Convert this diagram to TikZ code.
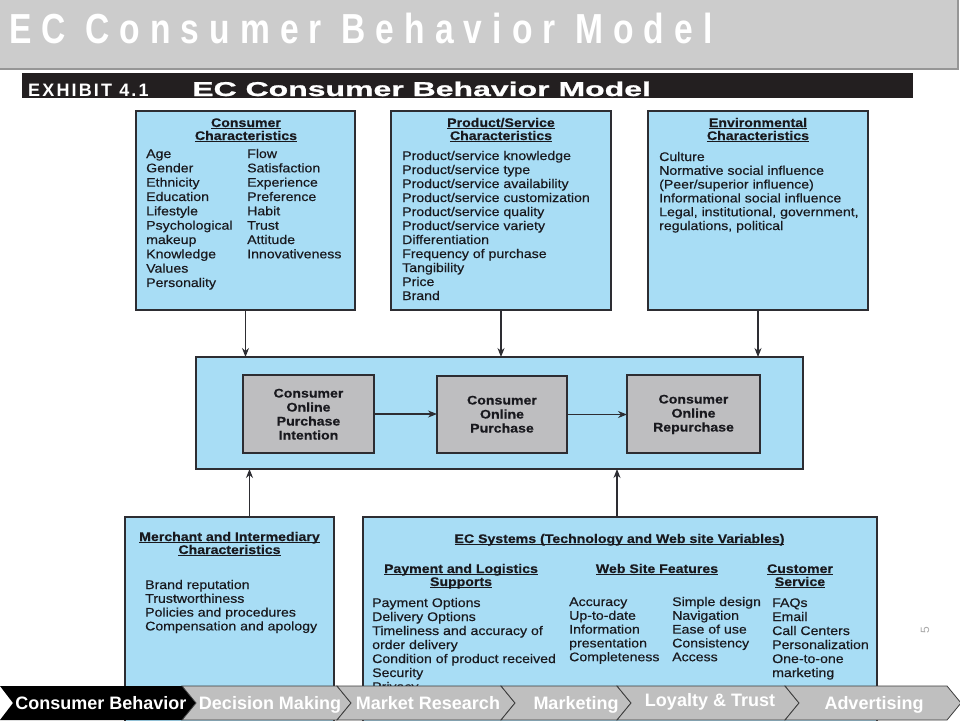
\documentclass[tikz,border=0pt]{standalone}
\usepackage{fontspec}
\setmainfont{Liberation Sans}
\newfontfamily\boxfont[FakeStretch=1.13,FakeBold=0.4]{Liberation Sans}
\newfontfamily\titlefont[FakeStretch=0.8,LetterSpace=24]{Liberation Sans Bold}
\newfontfamily\exhfont[FakeStretch=1.0,LetterSpace=12]{Liberation Sans Bold}
\newfontfamily\exhtitlefont[FakeStretch=1.6,FakeBold=1]{Liberation Sans Bold}
\newfontfamily\navfont{Liberation Sans Bold}
\usetikzlibrary{arrows.meta}
\newsavebox\hdbox
\newcommand\hdul[1]{\sbox\hdbox{#1}\rlap{\rule[-2pt]{\wd\hdbox}{0.8pt}}\usebox\hdbox}
\definecolor{boxblue}{RGB}{168,221,245}
\definecolor{boxgray}{RGB}{190,190,192}
\definecolor{edge}{RGB}{45,45,50}
\definecolor{ink}{RGB}{25,25,30}
\definecolor{titlegray}{RGB}{204,204,204}
\definecolor{titleedge}{RGB}{150,150,150}
\definecolor{exhblack}{RGB}{35,31,32}
\definecolor{navgray}{RGB}{191,191,191}
\definecolor{navedge}{RGB}{60,60,60}
\definecolor{pagegray}{RGB}{170,170,170}
\tikzset{
 bluebox/.style={draw=edge, line width=1.3pt, fill=boxblue, inner sep=0, outer sep=0, anchor=north west},
 graybox/.style={draw=edge, line width=1.2pt, fill=boxgray, inner sep=0, outer sep=0, anchor=north west},
 item/.style={inner sep=0, anchor=base west, text=ink, font=\boxfont\fontsize{12.5}{14}\selectfont},
 head/.style={inner sep=0, anchor=base, text=ink, font=\boxfont\bfseries\fontsize{12.5}{14}\selectfont},
 flow/.style={-{Stealth[length=9pt,width=7pt]}, line width=1.1pt, draw=edge},
 navtext/.style={inner sep=0, anchor=base, text=white, font=\navfont\fontsize{18}{18}\selectfont},
 chev/.style={fill=navgray, draw=navedge, line width=0.8pt},
}
\begin{document}
\begin{tikzpicture}[x=1pt,y=-1pt]
\useasboundingbox (0,0) rectangle (960,720);
\fill[white] (0,0) rectangle (960,720);
% title bar
\fill[titlegray] (0,0) rectangle (958,69);
\draw[titleedge, line width=2pt] (0,69) -- (958,69) -- (958,0);
\node[inner sep=0, anchor=base west, text=white, font=\titlefont\fontsize{42}{42}\selectfont] (title) at (9,43) {EC Consumer Behavior Model};
% exhibit bar
\fill[exhblack] (22,73) rectangle (913,98);
\node[inner sep=0, anchor=base west, text=white, font=\exhfont\fontsize{18}{18}\selectfont] (exh) at (28,96) {EXHIBIT 4.1};
\node[inner sep=0, anchor=base west, text=white, font=\exhtitlefont\fontsize{20}{20}\selectfont] (exhtitle) at (192,96) {EC Consumer Behavior Model};
% boxes
\node[bluebox, minimum width=219, minimum height=199] (cc) at (136,111) {};
\node[bluebox, minimum width=220, minimum height=199] (ps) at (391,111) {};
\node[bluebox, minimum width=220, minimum height=199] (env) at (648,111) {};
\node[bluebox, minimum width=607, minimum height=112] (mid) at (196,357) {};
\node[graybox, minimum width=131, minimum height=78] (pa) at (243,375) {};
\node[graybox, minimum width=130, minimum height=77] (pb) at (437,376) {};
\node[graybox, minimum width=133, minimum height=78] (pc) at (627,375) {};
\node[bluebox, minimum width=209, minimum height=213] (mer) at (125,517) {};
\node[bluebox, minimum width=514, minimum height=213] (ecs) at (363,517) {};
% arrows
\draw[flow] (cc.south) -- (cc.south |- mid.north);
\draw[flow] (ps.south) -- (ps.south |- mid.north);
\draw[flow] (env.south) -- (env.south |- mid.north);
\draw[flow] ([xshift=20pt]mer.north) -- ([xshift=20pt]mer.north |- mid.south);
\draw[flow] ([xshift=-3pt]ecs.north) -- ([xshift=-3pt]ecs.north |- mid.south);
\draw[flow] (pa.east) -- (pa.east -| pb.west);
\draw[flow] (pb.east) -- (pb.east -| pc.west);
% consumer characteristics
\node[head] (cch1) at (246,127) {\hdul{Consumer}};
\node[head] (cch2) at (246,140) {\hdul{Characteristics}};
\foreach \t [count=\i from 0] in {Age,Gender,Ethnicity,Education,Lifestyle,Psychological,makeup,Knowledge,Values,Personality}
  \node[item] (cca\i) at (146,{158+14.33*\i}) {\t};
\foreach \t [count=\i from 0] in {Flow,Satisfaction,Experience,Preference,Habit,Trust,Attitude,Innovativeness}
  \node[item] (ccb\i) at (247,{158+14.33*\i}) {\t};
% product/service
\node[head] (psh1) at (501,127) {\hdul{Product/Service}};
\node[head] (psh2) at (501,140) {\hdul{Characteristics}};
\foreach \t [count=\i from 0] in {Product/service knowledge,Product/service type,Product/service availability,Product/service customization,Product/service quality,Product/service variety,Differentiation,Frequency of purchase,Tangibility,Price,Brand}
  \node[item] (psa\i) at (402,{160+14*\i}) {\t};
% environmental
\node[head] (envh1) at (758,127) {\hdul{Environmental}};
\node[head] (envh2) at (758,140) {\hdul{Characteristics}};
\foreach \t [count=\i from 0] in {Culture,Normative social influence,(Peer/superior influence),Informational social influence,{Legal, institutional, government,},{regulations, political}}
  \node[item] (enva\i) at (659,{161+13.8*\i}) {\t};
% inner boxes
\foreach \t [count=\i from 0] in {Consumer,Online,Purchase,Intention}
  \node[head] (pat\i) at ([yshift={16.5-14*\i}]pa.center) {\t};
\foreach \t [count=\i from 0] in {Consumer,Online,Purchase}
  \node[head] (pbt\i) at ([yshift={10-14*\i}]pb.center) {\t};
\foreach \t [count=\i from 0] in {Consumer,Online,Repurchase}
  \node[head] (pct\i) at ([yshift={10.5-14*\i}]pc.center) {\t};
% merchant
\node[head] (merh1) at (229.5,541) {\hdul{Merchant and Intermediary}};
\node[head] (merh2) at (229.5,554) {\hdul{Characteristics}};
\foreach \t [count=\i from 0] in {Brand reputation,Trustworthiness,Policies and procedures,Compensation and apology}
  \node[item] (mera\i) at (145,{589+13.8*\i}) {\t};
% EC systems
\node[head] (ecsh) at (619.5,543) {\hdul{EC Systems (Technology and Web site Variables)}};
\node[head] (payh1) at (461,573) {\hdul{Payment and Logistics}};
\node[head] (payh2) at (461,586) {\hdul{Supports}};
\foreach \t [count=\i from 0] in {Payment Options,Delivery Options,Timeliness and accuracy of,order delivery,Condition of product received,Security,Privacy}
  \node[item] (paya\i) at (372,{607+14*\i}) {\t};
\node[head] (webh) at (657,573) {\hdul{Web Site Features}};
\foreach \t [count=\i from 0] in {Accuracy,Up-to-date,Information,presentation,Completeness}
  \node[item] (weba\i) at (569,{606+13.8*\i}) {\t};
\foreach \t [count=\i from 0] in {Simple design,Navigation,Ease of use,Consistency,Access}
  \node[item] (webb\i) at (672,{606+13.8*\i}) {\t};
\node[head] (custh1) at (800,573) {\hdul{Customer}};
\node[head] (custh2) at (800,586) {\hdul{Service}};
\foreach \t [count=\i from 0] in {FAQs,Email,Call Centers,Personalization,One-to-one,marketing}
  \node[item] (custa\i) at (772,{607+14*\i}) {\t};
% page number
\node[inner sep=0, rotate=90, text=pagegray, font=\fontsize{12}{12}\selectfont] (pg) at (925,630) {5};
% navigation bar
\fill[black] (0,686) -- (182,686) -- (196,703) -- (182,720) -- (0,720) -- (13,703) -- cycle;
\path[chev] (182,686) -- (337,686) -- (351,703) -- (337,720) -- (182,720) -- (196,703) -- cycle;
\path[chev] (337,686) -- (501,686) -- (515,703) -- (501,720) -- (337,720) -- (351,703) -- cycle;
\path[chev] (501,686) -- (617,686) -- (631,703) -- (617,720) -- (501,720) -- (515,703) -- cycle;
\path[chev] (617,686) -- (785,686) -- (799,703) -- (785,720) -- (617,720) -- (631,703) -- cycle;
\path[chev] (785,686) -- (947,686) -- (961,703) -- (947,720) -- (785,720) -- (799,703) -- cycle;
\node[navtext] (nav1) at (101,709) {Consumer Behavior};
\node[navtext] (nav2) at (270,709) {Decision Making};
\node[navtext] (nav3) at (428,709) {Market Research};
\node[navtext] (nav4) at (576,709) {Marketing};
\node[navtext] (nav5) at (710,706) {Loyalty \& Trust};
\node[navtext] (nav6) at (874,709) {Advertising};
\end{tikzpicture}
\end{document}
